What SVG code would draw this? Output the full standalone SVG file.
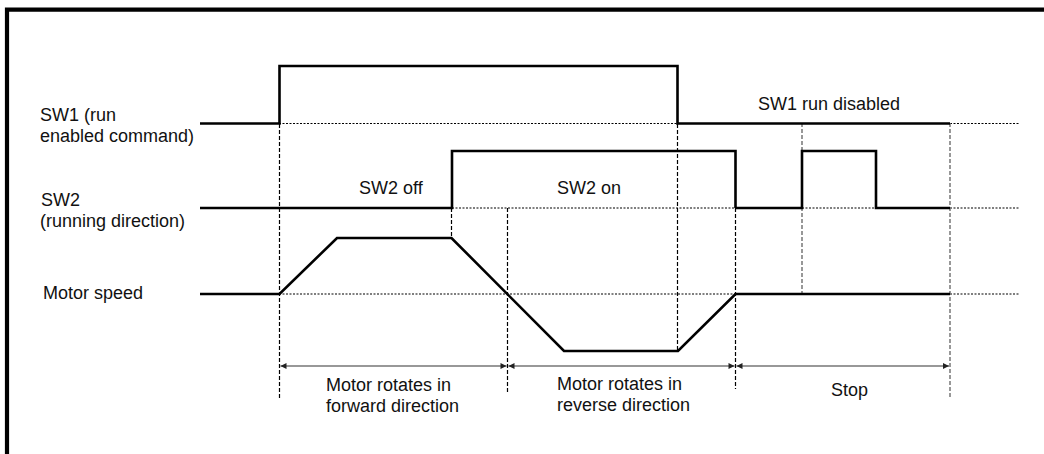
<svg xmlns="http://www.w3.org/2000/svg" width="1044" height="454" viewBox="0 0 1044 454">
  <style>
    text { font-family: "Liberation Sans", Arial, sans-serif; font-size: 18px; fill: #111; }
    .frame { fill: none; stroke: #000; stroke-width: 4.2; }
    .trace { fill: none; stroke: #000; stroke-width: 2.6; stroke-linejoin: miter; }
    .dot { fill: none; stroke: #000; stroke-width: 1.2; stroke-dasharray: 2 1.5; }
    .vdash { fill: none; stroke: #000; stroke-width: 1.2; stroke-dasharray: 4 2; }
    .vdashg { fill: none; stroke: #777; stroke-width: 1.5; stroke-dasharray: 4 2; }
    .dim { fill: none; stroke: #333; stroke-width: 1.2; marker-start: url(#ah); marker-end: url(#ah); }
  </style>
  <defs>
    <marker id="ah" viewBox="0 0 10 10" refX="10" refY="5" markerWidth="7" markerHeight="6" markerUnits="userSpaceOnUse" orient="auto-start-reverse">
      <path d="M0,0 L10,5 L0,10 z" fill="#222"/>
    </marker>
  </defs>
  <rect width="1044" height="454" fill="#fff"/>
  <path class="frame" d="M7,460 L7,9.6 L1050,9.6"/>

  <g id="guides">
    <path class="dot" d="M279,123.5 H677 M950,123.5 H1020"/>
    <path class="dot" d="M452,208 H735 M802,208 H876 M950,208 H1020"/>
    <path class="dot" d="M279,294 H735 M950,294 H1020"/>
    <path class="vdash" d="M279.5,124 V398 M451.5,208 V238 M507.5,208 V392 M677.5,124 V351 M735.5,208 V389"/>
    <path class="vdashg" d="M802,123 V294 M950,123 V398"/>
  </g>

  <g id="sw1">
    <text x="40" y="121">SW1 (run</text>
    <text x="40" y="141.5">enabled command)</text>
    <path class="trace" d="M200,123.5 H279.5 V66 H677.5 V123.5 H950"/>
    <text x="758" y="110">SW1 run disabled</text>
  </g>

  <g id="sw2">
    <text x="41" y="206">SW2</text>
    <text x="40" y="227">(running direction)</text>
    <path class="trace" d="M200,208 H452 V151 H735.5 V208"/>
    <path class="trace" d="M735.5,208 H802 V151 H876 V208 H950" />
    <text x="359" y="194">SW2 off</text>
    <text x="557" y="194">SW2 on</text>
  </g>

  <g id="motor">
    <text x="43" y="299">Motor speed</text>
    <path class="trace" d="M200,294 H279.5 L337,238 H451.5 L564,351 H678 L735.5,294 H950"/>
  </g>

  <g id="connectors">
    <line class="dim" x1="280.5" y1="366" x2="506.5" y2="366"/>
    <line class="dim" x1="508.5" y1="366" x2="734.5" y2="366"/>
    <line class="dim" x1="736.5" y1="366" x2="949" y2="366"/>
  </g>

  <g id="phases">
    <text x="326" y="390.5">Motor rotates in</text>
    <text x="326" y="411.5">forward direction</text>
    <text x="557" y="389.5">Motor rotates in</text>
    <text x="557" y="410.5">reverse direction</text>
    <text x="831" y="396">Stop</text>
  </g>
</svg>
